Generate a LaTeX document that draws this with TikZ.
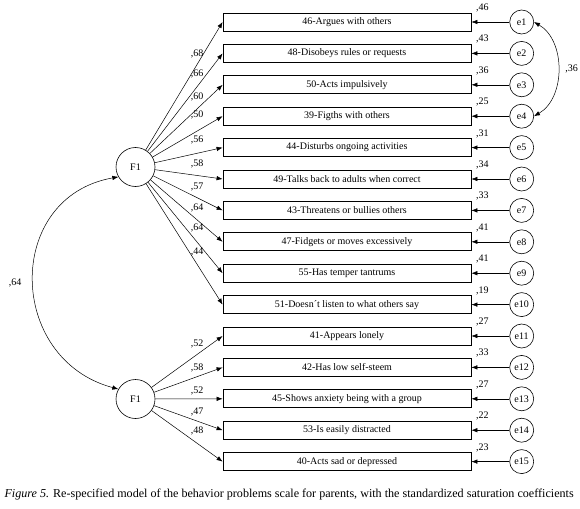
\documentclass[tikz,border=0pt]{standalone}
\usepackage{fontspec}
\setmainfont{Liberation Serif}
\usetikzlibrary{arrows.meta,positioning}

\begin{document}
\begin{tikzpicture}[x=1pt,y=-1pt,font=\fontsize{10}{12}\selectfont,
  itembox/.style={draw,line width=0.8pt,minimum width=248pt,minimum height=18pt,inner sep=0pt},
  errcirc/.style={draw,circle,line width=0.6pt,minimum size=24pt,inner sep=0pt},
  factor/.style={draw,circle,line width=0.6pt,minimum size=39pt,inner sep=0pt},
  load/.style={-{Latex[length=6pt,width=4.5pt]},line width=0.5pt}]
 \useasboundingbox (0,0) rectangle (580,508);
 \node[factor] (fa) at (135.5,167) {F1};
 \node[factor] (fb) at (135.5,399) {F1};
 % items, errors and coefficients
 \foreach \i/\t/\f/\l/\ly/\r in {
   1/{46-Argues with others}/fa/68/54/46,
   2/{48-Disobeys rules or requests}/fa/66/74/43,
   3/{50-Acts impulsively}/fa/60/97/36,
   4/{39-Figths with others}/fa/50/115/25,
   5/{44-Disturbs ongoing activities}/fa/56/140/31,
   6/{49-Talks back to adults when correct}/fa/58/164/34,
   7/{43-Threatens or bullies others}/fa/57/187/33,
   8/{47-Fidgets or moves excessively}/fa/64/208/41,
   9/{55-Has temper tantrums}/fa/64/228/41,
   10/{51-Doesn´t listen to what others say}/fa/44/252/19,
   11/{41-Appears lonely}/fb/52/344/27,
   12/{42-Has low self-steem}/fb/58/368/33,
   13/{45-Shows anxiety being with a group}/fb/52/391/27,
   14/{53-Is easily distracted}/fb/47/412/22,
   15/{40-Acts sad or depressed}/fb/48/431/23}
 {
   \node[itembox] (item\i) at (347,{22+31.4*(\i-1)}) {\t};
   \node[errcirc] (e\i) at (521.7,{22+31.4*(\i-1)}) {e\i};
   \draw[load] (e\i) -- (item\i);
   \draw[load] (\f) -- (item\i.west);
   \node (lab\i) at (197,\ly) {,\l};
   \node (res\i) at ([shift={(11,-14)}]item\i.east) {,\r};
 }
 % covariances
 \draw[{Latex[length=6pt,width=4.5pt]}-{Latex[length=6pt,width=4.5pt]},line width=0.5pt]
   (e1.east) to[bend left=60] node[right=4pt] (cov1) {,36} (e4.east);
 \draw[{Latex[length=6pt,width=4.5pt]}-{Latex[length=6pt,width=4.5pt]},line width=0.5pt]
   (fa.210) to[out=190,in=165,looseness=1.4] (fb.150);
 \node[anchor=east] (cov2) at (25,283) {,64};
 \node[anchor=west,font=\fontsize{12.1}{14}\selectfont] (caption) at (1,495)
   {\textit{Figure 5.} Re-specified model of the behavior problems scale for parents, with the standardized saturation coefficients};
\end{tikzpicture}
\end{document}
